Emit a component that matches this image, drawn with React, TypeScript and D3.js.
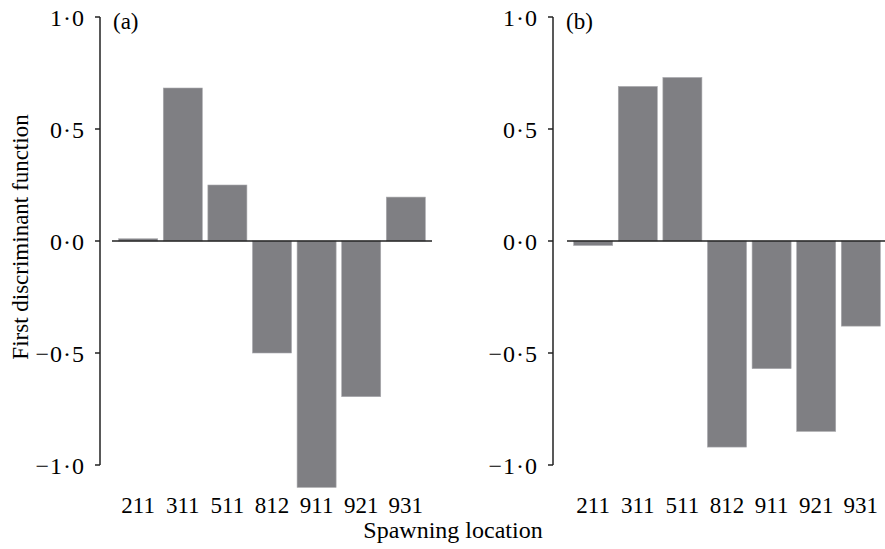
import React from 'react';
import { scaleBand, scaleLinear } from 'd3';

const locations = ['211', '311', '511', '812', '911', '921', '931'];
const valuesA = [0.01, 0.683, 0.25, -0.5, -1.1, -0.695, 0.196];
const valuesB = [-0.02, 0.69, 0.73, -0.92, -0.57, -0.85, -0.38];
const yTicks = [1, 0.5, 0, -0.5, -1];
const yTickLabels = ['1·0', '0·5', '0·0', '−0·5', '−1·0'];

const W = 885;
const H = 549;
const font = '"Liberation Serif", "Times New Roman", serif';
const barColor = '#7f7f83';
const ink = '#000';

const y = scaleLinear().domain([-1, 1]).range([465, 17]);

type PanelProps = { axisX: number; dx: number; zeroEnd: number; values: number[]; tag: string };

const Panel = ({ axisX, dx, zeroEnd, values, tag }: PanelProps) => {
  const x = scaleBand()
    .domain(locations)
    .range([116 + dx, 428 + dx])
    .paddingInner(0.125)
    .paddingOuter(0.06);
  return (
    <g>
      {values.map((v, i) => {
        const loc = locations[i];
        const top = y(Math.max(0, v));
        const bot = y(Math.min(0, v));
        return (
          <rect
            key={loc}
            x={x(loc)}
            y={top}
            width={x.bandwidth()}
            height={Math.max(1.5, bot - top)}
            fill={barColor}
            stroke='#a9a9ad'
            strokeWidth={0.6}
          />
        );
      })}
      <line x1={112 + dx} x2={zeroEnd} y1={y(0)} y2={y(0)} stroke='#222' strokeWidth={1.5} />
      <line x1={axisX} x2={axisX} y1={y(1)} y2={y(-1)} stroke='#222' strokeWidth={1.5} />
      {yTicks.map((t, i) => (
        <g key={t}>
          <line x1={axisX - 5} x2={axisX} y1={y(t)} y2={y(t)} stroke='#222' strokeWidth={1.5} />
          <text
            x={axisX - 15}
            y={y(t)}
            dy='0.36em'
            textAnchor='end'
            fontFamily={font}
            fontSize={24}
            letterSpacing={1}
            fill={ink}
          >
            {yTickLabels[i]}
          </text>
        </g>
      ))}
      {locations.map((loc) => (
        <text
          key={loc}
          x={(x(loc) ?? 0) + x.bandwidth() / 2}
          y={512.5}
          textAnchor='middle'
          fontFamily={font}
          fontSize={23}
          fill={ink}
        >
          {loc}
        </text>
      ))}
      <text x={axisX + 13} y={29} fontFamily={font} fontSize={23} fill={ink}>
        {tag}
      </text>
    </g>
  );
};

const App = () => {
  return (
    <svg
      width={W}
      height={H}
      viewBox={[0, 0, W, H].join(' ')}
      style={{ position: 'absolute', left: 0, top: 0, background: '#fff' }}
    >
      <rect width={W} height={H} fill='#fff' />
      <Panel axisX={100} dx={0} zeroEnd={432} values={valuesA} tag='(a)' />
      <Panel axisX={553} dx={455} zeroEnd={885} values={valuesB} tag='(b)' />
      <text
        x={453}
        y={538}
        textAnchor='middle'
        fontFamily={font}
        fontSize={24}
        fill={ink}
      >
        Spawning location
      </text>
      <text
        transform='translate(28, 237) rotate(-90)'
        textAnchor='middle'
        fontFamily={font}
        fontSize={23}
        fill={ink}
      >
        First discriminant function
      </text>
    </svg>
  );
};

export default App;
